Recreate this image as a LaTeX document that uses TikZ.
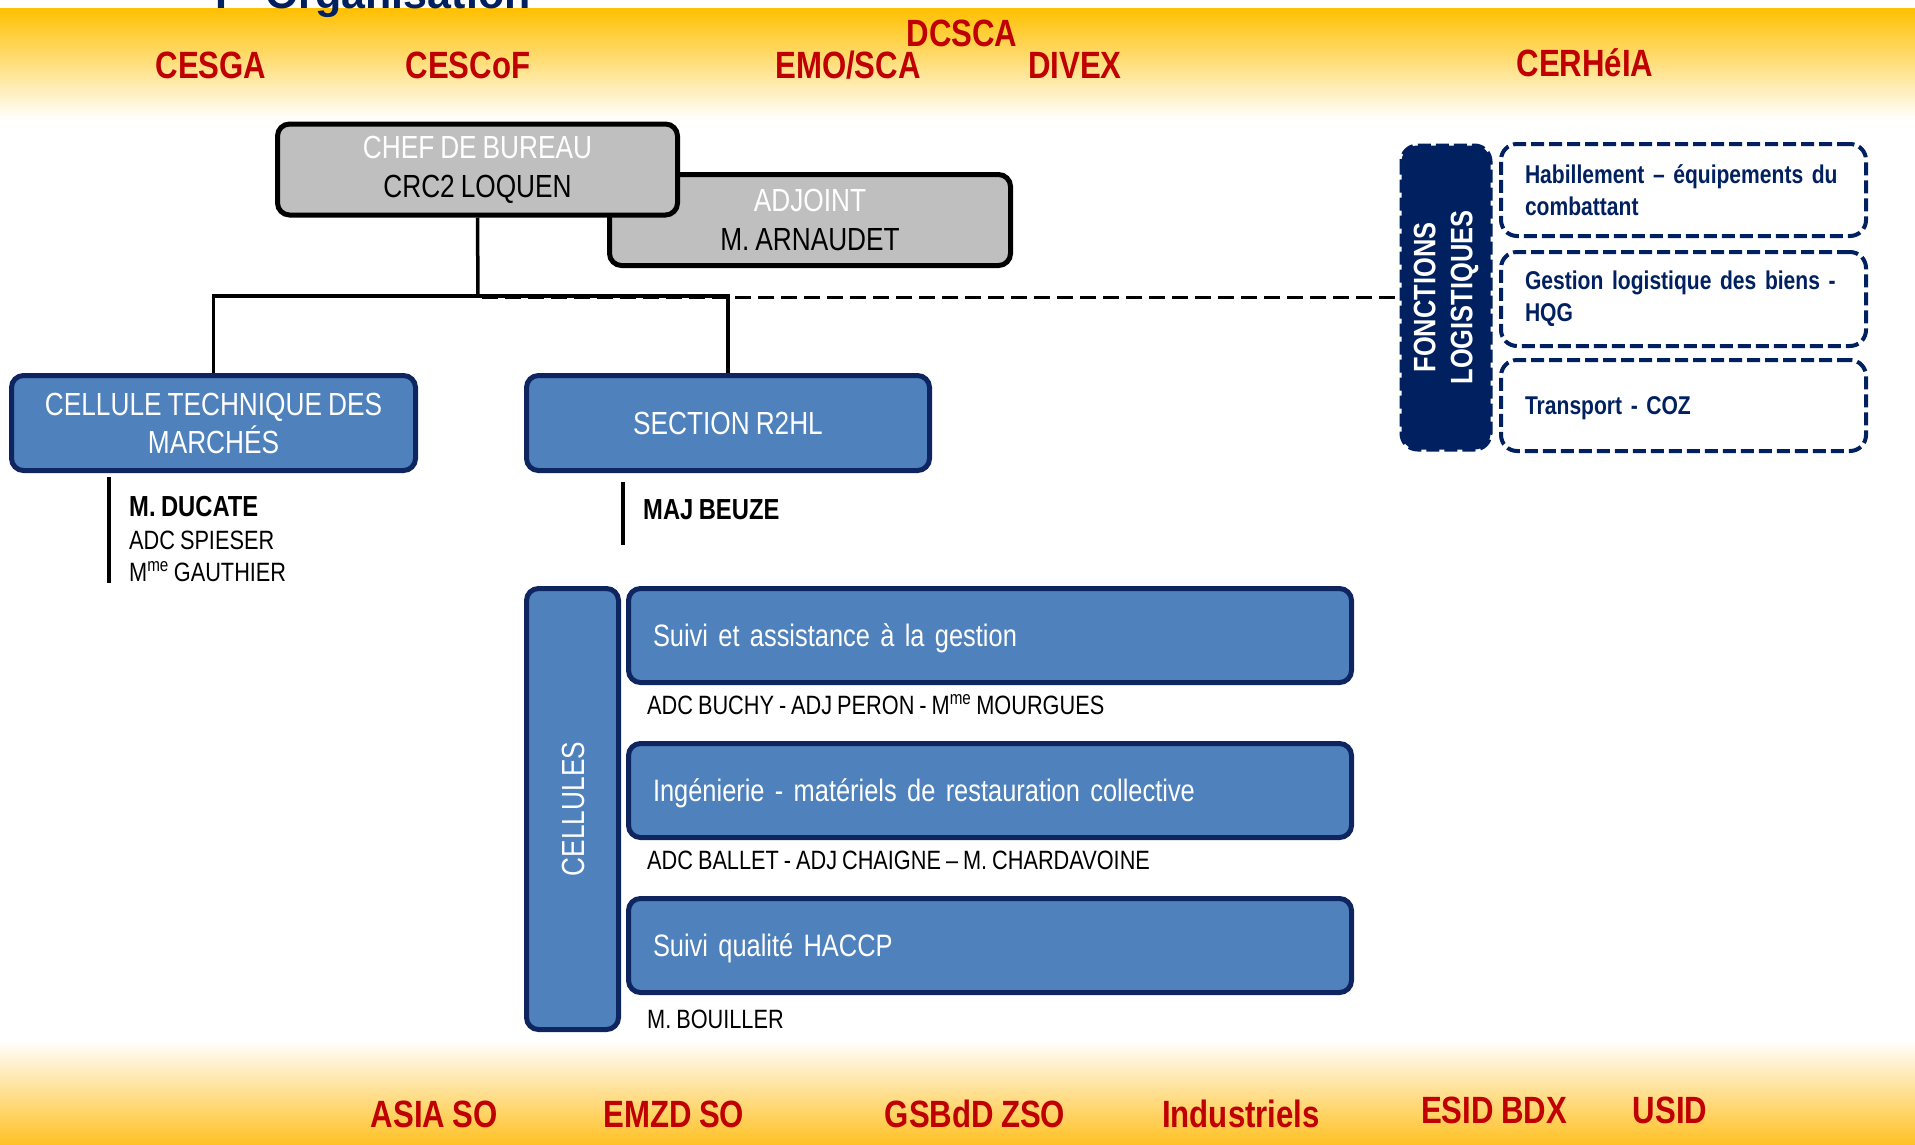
\documentclass[tikz,border=0pt]{standalone}
\usepackage{fontspec}
\setmainfont{Liberation Sans}[FakeStretch=0.82, WordSpace=0.82]
\newfontfamily\titlefont{Liberation Sans}
\definecolor{navy}{HTML}{002060}
\definecolor{boxblue}{HTML}{4F81BD}
\definecolor{boxedge}{HTML}{0E2560}
\definecolor{grayfill}{HTML}{BFBFBF}
\definecolor{lblred}{HTML}{C00000}
\definecolor{bandor}{HTML}{FFC000}
\definecolor{bandorb}{HTML}{FFC125}
\newcommand\myfs[2]{\fontsize{#1pt}{#2pt}\selectfont}
\tikzset{
  graybox/.style={draw=black, line width=5pt, fill=grayfill, rounded corners=12pt, inner sep=0pt, align=center, font=\myfs{32}{39}},
  bluebox/.style={draw=boxedge, line width=5pt, fill=boxblue, rounded corners=12pt, inner sep=0pt, text=white, font=\myfs{32}{38}},
  cellbox/.style={bluebox, font=\myfs{31}{38}, align=left, text width=674pt, text height=22pt, text depth=0pt, minimum width=723pt, minimum height=94pt},
  logbox/.style={draw=navy, line width=4pt, dash pattern=on 13pt off 5pt, rounded corners=16pt, inner sep=0pt, text=navy, font=\bfseries\myfs{25.7}{32}, align=left, text width=317pt, minimum width=365pt},
  orglbl/.style={text=lblred, font=\bfseries\myfs{38}{40}, inner sep=0pt, anchor=base},
  staff/.style={font=\myfs{26.5}{32}, inner sep=0pt, anchor=base west},
  staffb/.style={font=\bfseries\myfs{29}{32}, inner sep=0pt, anchor=base west},
  conn/.style={line width=3.5pt, black},
  dashconn/.style={line width=3.5pt, black, dash pattern=on 16pt off 7pt},
  bar/.style={line width=4pt, black}
}
\begin{document}
\begin{tikzpicture}[x=1pt,y=-1pt]
\useasboundingbox (0,0) rectangle (1915,1144);
% bands
\shade[top color=bandor, bottom color=white] (0,8) rectangle (1915,120);
\shade[top color=white, bottom color=bandorb] (0,1040) rectangle (1915,1144);
% title (cut by the page top, as in the reference)
\node[anchor=base west, inner sep=0pt, text=navy, font=\titlefont\bfseries\myfs{43}{45}] (title) at (215,8) {I - Organisation};
% top labels
\node[orglbl] (cesga) at (211,78) {CESGA};
\node[orglbl] (cescof) at (468,78) {CESCoF};
\node[orglbl] (emo) at (848,78) {EMO/SCA};
\node[orglbl] (dcsca) at (962,46) {DCSCA};
\node[orglbl] (divex) at (1075,78) {DIVEX};
\node[orglbl] (cerhelia) at (1585,76) {CERHéIA};
% bottom labels
\node[orglbl] (asia) at (434,1127) {ASIA SO};
\node[orglbl] (emzd) at (674,1127) {EMZD SO};
\node[orglbl] (gsbdd) at (975,1127) {GSBdD ZSO};
\node[orglbl] (indus) at (1241,1127) {Industriels};
\node[orglbl] (esid) at (1494,1123) {ESID BDX};
\node[orglbl] (usid) at (1670,1123) {USID};
% gray boxes
\node[graybox, minimum width=401pt, minimum height=91pt] (adj) at (810,220)
  {\textcolor{white}{ADJOINT}\\M. ARNAUDET};
\node[graybox, minimum width=400pt, minimum height=91pt] (chef) at (477.5,169.5)
  {\textcolor{white}{CHEF DE BUREAU}\\CRC2 LOQUEN};
% blue boxes
\node[bluebox, align=center, minimum width=404pt, minimum height=95pt] (ctm) at (213.5,423)
  {CELLULE TECHNIQUE DES\\MARCHÉS};
\node[bluebox, text height=23pt, text depth=0pt, minimum width=403pt, minimum height=95pt] (r2hl) at (728,423)
  {SECTION R2HL};
% connectors
\coordinate (j) at (478,296);
\draw[conn] (chef.south) -- (j);
\draw[conn] (ctm.north) |- (j) -| (r2hl.north);
% fonctions logistiques
\node[draw=navy, fill=navy, line width=4pt, dash pattern=on 13pt off 5pt, rounded corners=16pt, inner sep=0pt,
  rotate=90, minimum width=304pt, minimum height=89pt, text=white, align=center, font=\bfseries\myfs{31}{37}] (fonc) at (1446,297.5)
  {FONCTIONS\\LOGISTIQUES};
\coordinate (jd) at (482,297.5);
\draw[dashconn] (jd) -- (fonc.north);
% staff
\coordinate (b1t) at (109,477);
\coordinate (b1b) at (109,583);
\draw[bar] (b1t) -- (b1b);
\node[staffb] (ducate) at (129,516) {M. DUCATE};
\node[staff] (spieser) at (129,549) {ADC SPIESER};
\node[staff] (gauthier) at (129,581) {M\textsuperscript{me} GAUTHIER};
\coordinate (b2t) at (623,482);
\coordinate (b2b) at (623,545);
\draw[bar] (b2t) -- (b2b);
\node[staffb] (beuze) at (643,519) {MAJ BEUZE};
% cellules
\node[bluebox, rotate=90, text height=23pt, text depth=0pt, minimum width=441pt, minimum height=92pt] (cel) at (572.5,809) {CELLULES};
\node[cellbox] (c1) at (990,635.5) {Suivi et assistance à la gestion};
\node[cellbox] (c2) at (990,790.5) {Ingénierie - matériels de restauration collective};
\node[cellbox] (c3) at (990,945.5) {Suivi qualité HACCP};
\node[staff] (n1) at (647,714) {ADC BUCHY - ADJ PERON - M\textsuperscript{me} MOURGUES};
\node[staff] (n2) at (647,869) {ADC BALLET - ADJ CHAIGNE – M. CHARDAVOINE};
\node[staff] (n3) at (647,1028) {M. BOUILLER};
% logistic functions
\node[logbox, minimum height=92pt] (l1) at (1683.5,190) {\mbox{Habillement – équipements du}\\combattant};
\node[logbox, minimum height=94pt] (l2) at (1683.5,299) {\mbox{Gestion logistique des biens -}\\HQG};
\node[logbox, minimum height=91pt, text height=18.5pt, text depth=0pt] (l3) at (1683.5,405.5) {Transport - COZ};
\end{tikzpicture}
\end{document}
